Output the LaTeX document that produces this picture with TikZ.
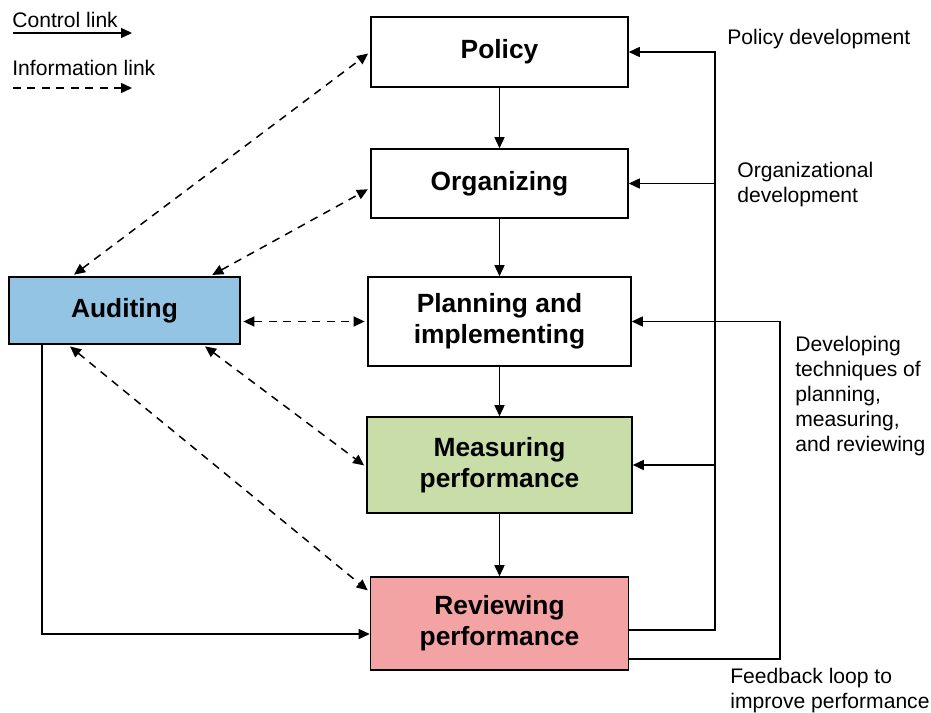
\documentclass[tikz,border=0pt]{standalone}
\usepackage{fontspec}
\setmainfont{Liberation Sans}
\usepackage{xcolor}
\usepackage{tikz}
\usetikzlibrary{positioning, arrows.meta, calc}

\definecolor{audblue}{RGB}{147,196,228}
\definecolor{measgreen}{RGB}{200,221,168}
\definecolor{revpink}{RGB}{243,163,163}

\begin{document}
\begin{tikzpicture}[
  x=0.02cm, y=-0.02cm,
  >={Triangle[length=2.2mm, width=2mm]},
  block/.style={draw, line width=0.9pt, minimum width=5.14cm,
                minimum height=1.4cm, inner sep=2pt,
                font=\fontsize{15}{17.6}\selectfont\bfseries, align=center},
  lbl/.style={font=\fontsize{12}{14.2}\selectfont, align=left, inner sep=0pt},
  arr/.style={->, line width=0.85pt},
  dashline/.style={dash pattern=on 1.6mm off 1.3mm},
  info/.style={<->, line width=0.85pt, dashline,
               shorten <=1.5pt, shorten >=1.5pt}
]
\useasboundingbox (0,0) rectangle (931,713);

% Legend
\node[lbl, anchor=base west] (ctrlkey) at (12,28) {Control link};
\coordinate (ctrla) at (13,33);
\coordinate (ctrlb) at (132,33);
\draw[arr] (ctrla) -- (ctrlb);
\node[lbl, anchor=base west] (infokey) at (12,76) {Information link};
\coordinate (infoa) at (13,88);
\coordinate (infob) at (132,88);
\draw[arr, dashline] (infoa) -- (infob);

% Main column
\node[block] (policy) at (499.5,52) {Policy};
\node[block, minimum height=1.38cm] (org) at (499.5,183.5) {Organizing};
\node[block, minimum width=5.26cm, minimum height=1.78cm]
  (plan) at (499.5,321.5) {Planning and\\implementing};
\node[block, fill=measgreen, minimum width=5.3cm, minimum height=1.92cm]
  (meas) at (499.5,465) {Measuring\\performance};
\node[block, fill=revpink, minimum width=5.16cm, minimum height=1.86cm]
  (rev) at (499.5,623.5) {Reviewing\\performance};

% Auditing
\node[block, fill=audblue, minimum width=4.62cm, minimum height=1.34cm]
  (aud) at (124.5,310.5) {Auditing};

% Side labels
\node[lbl, anchor=base west] (poldev) at (727,45) {Policy development};
\node[lbl, anchor=north west] (orgdev) at (737,162)
  {Organizational\\development};
\node[lbl, anchor=north west] (techdev) at (795,336)
  {Developing\\techniques of\\planning,\\measuring,\\and reviewing};
\node[lbl, anchor=north west] (fbloop) at (730,668)
  {Feedback loop to\\improve performance};

% Control links down the column
\draw[arr] (policy) -- (org);
\draw[arr] (org) -- (plan);
\draw[arr] (plan) -- (meas);
\draw[arr] (meas) -- (rev);

% Feedback loops
\coordinate (bus) at (715,630);
\coordinate (loop) at (780,659);
\draw[arr] (rev.east |- bus) -- (bus) |- (policy.east);
\draw[arr] (bus |- org.east) -- (org.east);
\draw[arr] (bus |- meas.east) -- (meas.east);
\draw[arr] (rev.east |- loop) -- (loop) |- (plan.east);

% Auditing to reviewing
\coordinate (audturn) at (42,634);
\draw[arr] (aud.south -| audturn) -- (audturn) -- (rev.west |- audturn);

% Information links
\draw[info] ([xshift=-1.05cm]aud.north) -- (policy.west);
\draw[info] ([xshift=1.71cm]aud.north) -- ([yshift=-0.09cm]org.west);
\draw[info] (aud.east |- plan.west) -- (plan.west);
\draw[info] ([xshift=1.57cm]aud.south) -- ([yshift=-0.04cm]meas.west);
\draw[info] ([xshift=-1.13cm]aud.south) -- ([yshift=0.63cm]rev.west);

\end{tikzpicture}
\end{document}
